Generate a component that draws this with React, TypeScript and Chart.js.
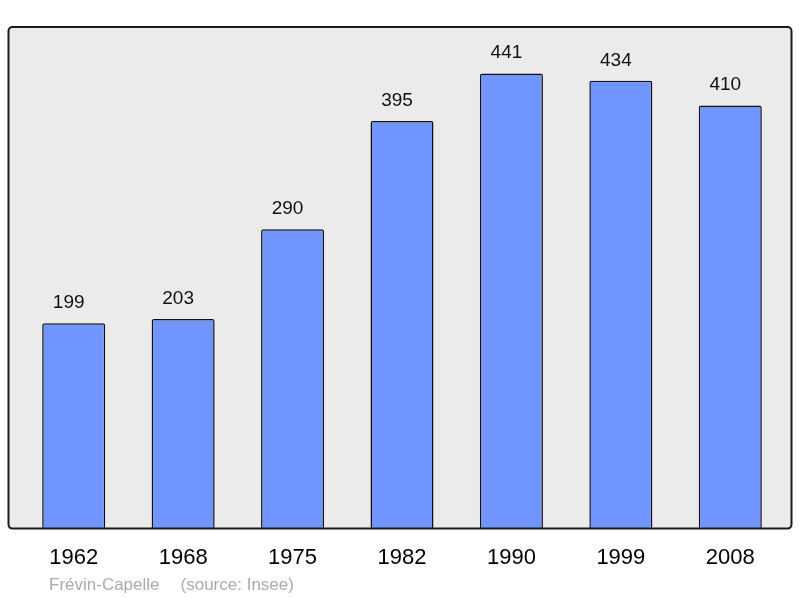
import { Chart, registerables } from "chart.js"
import { useEffect, useRef } from "react"

Chart.register(...registerables)

const YEARS = ["1962", "1968", "1975", "1982", "1990", "1999", "2008"]
const POPULATION = [199, 203, 290, 395, 441, 434, 410]
const Y_MAX = 486
const TOWN = "Frévin-Capelle"
const SOURCE = "(source: Insee)"

const FONT = '"Liberation Sans", Arial, sans-serif'

function frameRect(ctx: CanvasRenderingContext2D, area: { left: number; right: number; top: number; bottom: number }) {
	ctx.beginPath()
	ctx.roundRect(area.left - 10.5, area.top, area.right - area.left + 17, area.bottom - area.top, 4)
}

// grey frame with rounded corners behind the plot, and its outline drawn over the bars
const framePlugin = {
	id: "frame",
	beforeDraw(chart: Chart) {
		const { ctx, chartArea } = chart
		ctx.save()
		frameRect(ctx, chartArea)
		ctx.fillStyle = "#ebebeb"
		ctx.fill()
		ctx.restore()
	},
	afterDatasetsDraw(chart: Chart) {
		const { ctx, chartArea } = chart
		ctx.save()
		frameRect(ctx, chartArea)
		ctx.lineWidth = 2
		ctx.strokeStyle = "#1a1a1a"
		ctx.stroke()

		// values above bars (sit a little left of centre, as in the original)
		const meta = chart.getDatasetMeta(0)
		ctx.font = `19px ${FONT}`
		ctx.fillStyle = "#111"
		ctx.textAlign = "center"
		ctx.textBaseline = "alphabetic"
		meta.data.forEach((bar: any, i: number) => {
			ctx.fillText(String(POPULATION[i]), bar.x - 5, bar.y - 15)
		})
		ctx.restore()
	},
}

export default function App() {
	const canvasRef = useRef<HTMLCanvasElement>(null)

	useEffect(() => {
		if (!canvasRef.current) return
		const chart = new Chart(canvasRef.current, {
			type: "bar",
			data: {
				labels: YEARS,
				datasets: [
					{
						data: POPULATION,
						backgroundColor: "#7095ff",
						borderColor: "#111",
						borderWidth: 1.5,
						borderRadius: 2,
						borderSkipped: "bottom",
						categoryPercentage: 1,
						barPercentage: 0.576,
					},
				],
			},
			options: {
				responsive: false,
				animation: false,
				layout: { padding: { left: 19, right: 15, top: 27, bottom: 11 } },
				plugins: { legend: { display: false }, tooltip: { enabled: false } },
				scales: {
					x: {
						grid: { display: false, drawTicks: false },
						border: { display: false },
						ticks: { font: { family: FONT, size: 22 }, color: "#000", padding: 16, maxRotation: 0 },
					},
					y: { display: false, min: 0, max: Y_MAX },
				},
			},
			plugins: [framePlugin],
		})
		return () => {
			chart.destroy()
		}
	}, [])

	return (
		<div style={{ position: "absolute", left: 0, top: 0, width: 800, height: 598, background: "#fff" }}>
			<canvas ref={canvasRef} width={800} height={598} />
			<div
				style={{
					position: "absolute",
					left: 49,
					top: 575,
					fontFamily: FONT,
					fontSize: 17,
					color: "#aaa",
					whiteSpace: "pre",
				}}
			>
				{TOWN}
				<span style={{ marginLeft: 21 }}>{SOURCE}</span>
			</div>
		</div>
	)
}
